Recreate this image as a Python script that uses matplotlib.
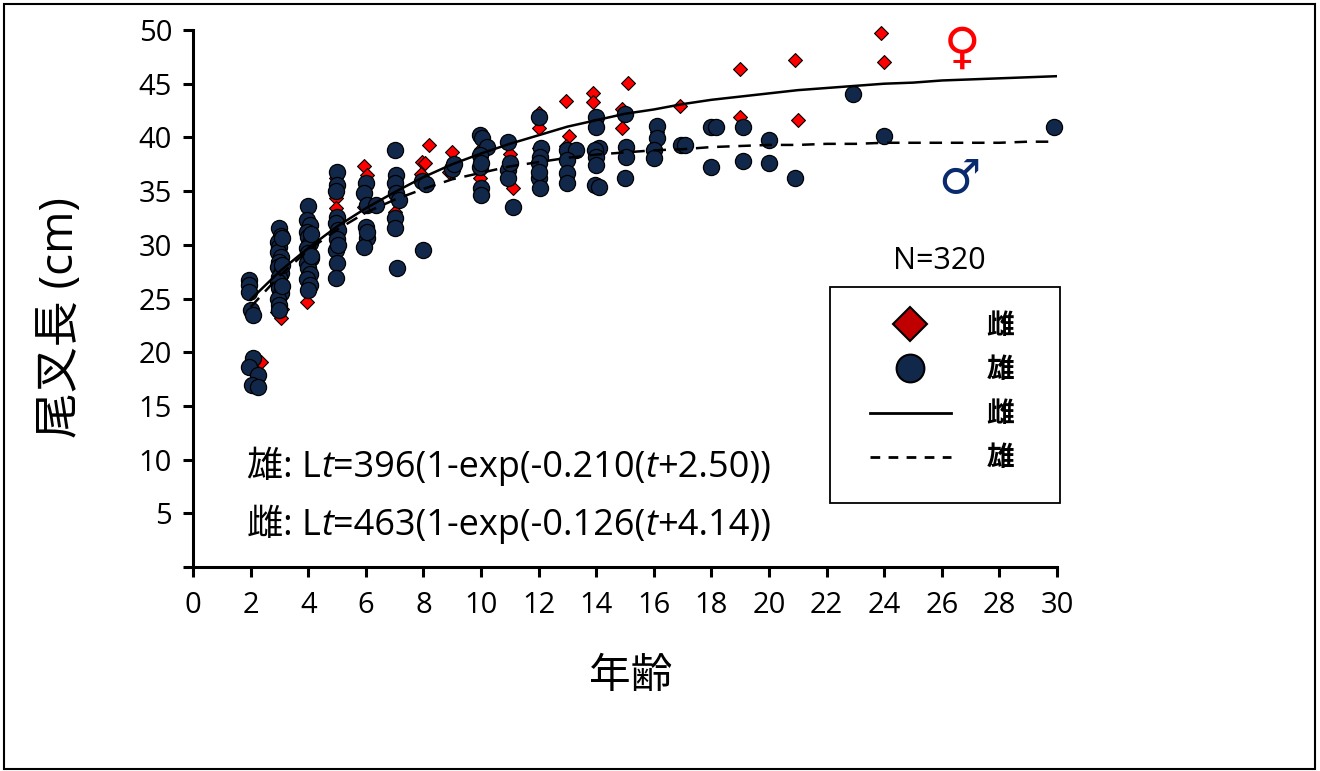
import matplotlib
matplotlib.use("Agg")
import matplotlib.pyplot as plt
from matplotlib.lines import Line2D
from matplotlib.patches import Rectangle

plt.rcParams['font.family'] = ['Open Sans', 'Noto Sans CJK JP', 'DejaVu Sans']

# female (雌) observations: age, fork length (cm)
female_age = [2.35, 2.9, 3.05, 3.1, 3.95, 4.95, 4.95, 4.95, 4.95, 5.95, 6.05, 5.95, 7.0,
              8.2, 7.95, 8.05, 7.9, 9.0, 8.9, 10.0, 9.95, 11.0, 11.05, 11.1, 12.0, 12.0,
              12.0, 12.95, 13.05, 12.95, 13.9, 13.9, 14.9, 14.9, 15.1, 16.1, 16.9, 19.0,
              19.0, 20.9, 21.0, 23.9, 24.0]
female_len = [19.1, 23.7, 23.2, 24.0, 24.7, 36.2, 35.8, 34.4, 33.4, 37.3, 36.5, 33.5, 33.1,
              39.3, 37.7, 37.6, 36.6, 38.6, 36.8, 38.9, 36.2, 38.5, 37.7, 35.3, 42.3, 40.9,
              39.0, 43.4, 40.1, 39.2, 44.1, 43.3, 42.6, 40.9, 45.1, 40.5, 42.9, 46.4,
              41.9, 47.2, 41.6, 49.7, 47.0]

# male (雄) observations
male_age = [1.95, 1.95, 1.95, 2.0, 2.1, 2.1, 1.95, 2.25, 2.05, 2.25,
            3.0, 3.05, 2.95, 3.0, 2.95, 3.05, 3.0, 2.95, 3.05, 3.0, 2.95, 3.0, 3.05, 2.95,
            3.0, 3.1, 3.1, 3.1, 3.0,
            4.0, 3.95, 4.05, 3.95, 4.0, 4.05, 3.95, 4.0, 4.1, 3.95, 4.0, 4.05, 3.95, 4.05,
            4.0, 4.1, 4.1,
            5.0, 5.0, 4.95, 5.0, 4.95, 5.05, 5.0, 4.95, 5.05, 5.0, 4.95,
            6.0, 5.95, 6.05, 6.0, 6.05, 5.95, 6.35, 6.05,
            7.0, 7.05, 7.0, 7.05, 7.15, 7.0, 7.0, 7.1,
            7.95, 8.1, 8.0, 9.0, 9.05,
            9.95, 10.05, 10.2, 9.95, 9.95, 10.0, 10.0, 10.0,
            10.95, 10.95, 10.95, 11.1, 11.0,
            12.0, 12.1, 12.05, 12.0, 12.0, 12.05, 12.0,
            13.0, 13.3, 13.0, 13.0, 13.0,
            14.0, 14.0, 14.1, 13.95, 14.0, 14.0, 13.95, 14.1,
            15.0, 15.05, 15.05, 15.0,
            16.1, 16.1, 16.0, 16.0, 16.95, 17.1,
            18.0, 18.15, 18.0, 19.1, 19.1, 20.0, 20.0, 20.9, 22.9, 24.0, 29.9]
male_len = [26.7, 26.3, 25.6, 23.9, 23.5, 19.5, 18.6, 17.9, 16.9, 16.8,
            31.6, 30.8, 30.3, 29.8, 29.3, 28.9, 28.4, 27.9, 27.4, 27.0, 26.5, 26.0, 25.5, 25.0,
            24.4, 30.6, 28.1, 26.2, 23.9,
            33.6, 32.3, 31.8, 31.2, 30.7, 30.2, 29.7, 29.2, 28.8, 28.3, 27.8, 27.3, 26.8, 26.3,
            25.8, 31.0, 29.0,
            36.8, 35.6, 35.0, 32.6, 32.0, 31.4, 30.5, 29.5, 30.0, 28.3, 26.9,
            35.8, 34.8, 33.7, 31.7, 30.6, 29.8, 33.7, 31.2,
            38.8, 36.5, 35.8, 34.8, 34.2, 32.5, 31.6, 27.8,
            35.9, 35.7, 29.5, 37.1, 37.5,
            40.2, 39.9, 39.1, 38.4, 37.2, 35.3, 34.6, 37.6,
            39.6, 37.0, 36.2, 33.5, 37.6,
            41.9, 39.0, 38.2, 37.6, 36.2, 35.3, 36.8,
            38.8, 38.8, 37.9, 36.7, 35.8,
            41.9, 41.0, 39.0, 38.8, 38.2, 37.4, 35.6, 35.4,
            42.2, 39.1, 38.2, 36.2,
            41.1, 39.9, 38.8, 38.1, 39.3, 39.3,
            41.0, 41.0, 37.2, 41.0, 37.8, 39.8, 37.6, 36.2, 44.0, 40.1, 41.0]

# fitted growth curves read at each age 2..30
curve_age = list(range(2, 31))
female_fit = [24.9, 27.5, 29.7, 31.7, 33.4, 34.9, 36.3, 37.5, 38.5, 39.4, 40.2, 41.0, 41.6,
              42.2, 42.6, 43.1, 43.5, 43.8, 44.1, 44.4, 44.6, 44.8, 45.0, 45.1, 45.3,
              45.4, 45.5, 45.6, 45.7]
male_fit = [24.2, 27.1, 29.5, 31.4, 33.0, 34.2, 35.2, 36.1, 36.7, 37.3, 37.7, 38.1, 38.4,
            38.6, 38.8, 38.9, 39.1, 39.2, 39.3, 39.3, 39.4, 39.4, 39.5, 39.5, 39.5,
            39.5, 39.5, 39.6, 39.6]

navy = '#12284a'
W, H = 1320, 771
fig = plt.figure(figsize=(W / 100, H / 100), dpi=100)
ax = fig.add_axes([193 / W, 1 - 567 / H, 864 / W, 537 / H])

ax.scatter(female_age, female_len, marker='D', s=50, c='#ff0000', edgecolors='black',
           linewidths=0.8, zorder=3, clip_on=False)
ax.scatter(male_age, male_len, marker='o', s=135, c=navy, edgecolors='black',
           linewidths=0.9, zorder=4, clip_on=False)
ax.plot(curve_age, female_fit, color='black', lw=1.8, zorder=5)
ax.plot(curve_age, male_fit, color='black', lw=1.8, ls=(0, (5, 3.5)), zorder=5)

ax.set_xlim(0, 30)
ax.set_ylim(0, 50)
ax.set_xticks(range(0, 31, 2))
ax.set_yticks(range(0, 51, 5))
ax.set_yticklabels([''] + [str(v) for v in range(5, 51, 5)])
for s in ['top', 'right']:
    ax.spines[s].set_visible(False)
for s in ['left', 'bottom']:
    ax.spines[s].set_linewidth(2.2)
ax.tick_params(direction='out', length=7, width=2.2, labelsize=21)
ax.tick_params(axis='x', pad=10)
ax.tick_params(axis='y', pad=8)

ax.set_ylabel('尾叉長 (cm)', fontsize=33)
ax.yaxis.set_label_coords(-0.126, 0.465)
ax.set_xlabel('年齢', fontsize=30)
ax.xaxis.set_label_coords(0.506, -0.166)


def equation(y, pieces):
    # pieces of text chained one after another, italic where asked
    prev = ax.text(1.875, y, pieces[0][0], fontsize=26, va='bottom', ha='left',
                   style=pieces[0][1])
    for txt, st in pieces[1:]:
        prev = ax.annotate(txt, xy=(1, 0), xycoords=prev, fontsize=26, va='bottom',
                           ha='left', style=st)


equation(7.5, [('雄: L', 'normal'), ('t', 'italic'), ('=396(1-exp(-0.210(', 'normal'),
               ('t', 'italic'), ('+2.50))', 'normal')])
equation(2.1, [('雌: L', 'normal'), ('t', 'italic'), ('=463(1-exp(-0.126(', 'normal'),
               ('t', 'italic'), ('+4.14))', 'normal')])

ax.text(25.9, 28.5, 'N=320', fontsize=22, ha='center', va='center')
ax.text(26.7, 48.3, '♀', fontsize=36, color='#ff0000', ha='center', va='center',
        family=['DejaVu Sans'])
ax.text(26.6, 36.0, '♂', fontsize=34, color='#0a2a6e', ha='center', va='center',
        family=['DejaVu Sans'])

# legend frame drawn by hand, entries placed inside it
ax.add_patch(Rectangle(((830 - 193) / 864, 1 - (503 - 30) / 537), 230 / 864, 216 / 537,
                       transform=ax.transAxes, fill=False, edgecolor='black', lw=1.3,
                       clip_on=False, zorder=6))
handles = [
    Line2D([], [], marker='D', ls='none', ms=17, mfc='#c00000', mec='black', mew=1.5),
    Line2D([], [], marker='o', ls='none', ms=20, mfc=navy, mec='black', mew=1.5),
    Line2D([], [], color='black', lw=2),
    Line2D([], [], color='black', lw=2, ls=(0, (3.5, 3))),
]
leg = ax.legend(handles, ['雌', '雄', '雌', '雄'], loc='upper left',
                bbox_to_anchor=((870 - 193) / 864, 1 - (312 - 30) / 537),
                frameon=False, handlelength=2.9, labelspacing=0.58, borderpad=0,
                handletextpad=1.3, borderaxespad=0,
                prop={'family': 'Noto Sans CJK JP', 'weight': 'bold', 'size': 20})

fig.patches.append(Rectangle((4 / W, 2 / H), 1 - 9 / W, 1 - 6 / H, transform=fig.transFigure,
                             fill=False, edgecolor='black', lw=1.5))

fig.savefig('out.png', dpi=100)
